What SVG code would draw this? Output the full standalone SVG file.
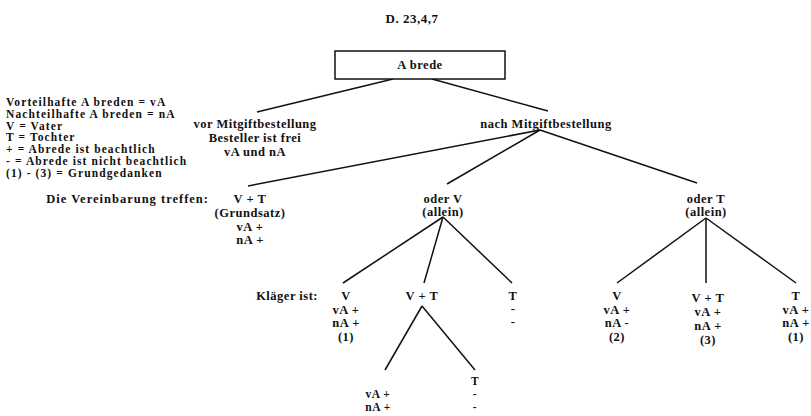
<svg xmlns="http://www.w3.org/2000/svg" width="811" height="416" viewBox="0 0 811 416">
<style>
text{font-family:"Liberation Serif","DejaVu Serif","Times New Roman",serif;font-size:12.5px;font-weight:bold;letter-spacing:0.5px;fill:#111}
.c{text-anchor:middle}
.r{text-anchor:end}
.lg{font-size:11.5px;letter-spacing:1.1px}
.sm{font-size:11.5px}
.l{stroke:#111;stroke-width:1.5;fill:none}
</style>
<rect width="811" height="416" fill="#fff"/>
<text class="c" x="412" y="23" style="font-size:13px">D. 23,4,7</text>
<g id="legend" class="lg">
<text class="lg" x="6" y="106">Vorteilhafte A breden = vA</text>
<text class="lg" x="6" y="118">Nachteilhafte A breden = nA</text>
<text class="lg" x="6" y="130">V = Vater</text>
<text class="lg" x="6" y="141">T = Tochter</text>
<text class="lg" x="6" y="153">+ = Abrede ist beachtlich</text>
<text class="lg" x="6" y="165">-  = Abrede ist nicht beachtlich</text>
<text class="lg" x="6" y="177">(1) - (3) = Grundgedanken</text>
</g>
<g id="connectors">
<line class="l" x1="393" y1="79" x2="257" y2="112"/>
<line class="l" x1="432" y1="79" x2="548" y2="111"/>
<line class="l" x1="540" y1="130" x2="248" y2="186"/>
<line class="l" x1="540" y1="130" x2="447" y2="184"/>
<line class="l" x1="540" y1="130" x2="697" y2="183"/>
<line class="l" x1="443" y1="217" x2="343" y2="283"/>
<line class="l" x1="443" y1="217" x2="424" y2="283"/>
<line class="l" x1="443" y1="217" x2="512" y2="283"/>
<line class="l" x1="422" y1="306" x2="385" y2="370"/>
<line class="l" x1="422" y1="306" x2="475" y2="370"/>
<line class="l" x1="706" y1="218" x2="617" y2="283"/>
<line class="l" x1="706" y1="218" x2="706" y2="283"/>
<line class="l" x1="706" y1="218" x2="796" y2="283"/>
</g>
<g id="abrede">
<rect x="335" y="51" width="170" height="28" fill="#fff" stroke="#111" stroke-width="1.5"/>
<text class="c" x="420" y="69">A brede</text>
</g>
<g id="vor">
<text class="c" x="255" y="128">vor Mitgiftbestellung</text>
<text class="c" x="255" y="142">Besteller ist frei</text>
<text class="c" x="255" y="156">vA und nA</text>
</g>
<g id="nach"><text class="c" x="546" y="128">nach Mitgiftbestellung</text></g>
<g id="vereinbarung"><text class="r" x="209" y="203" style="letter-spacing:1px">Die Vereinbarung treffen:</text></g>
<g id="vt">
<text class="c" x="250" y="203">V + T</text>
<text class="c" x="250" y="217">(Grundsatz)</text>
<text class="c" x="250" y="231">vA +</text>
<text class="c" x="250" y="244">nA +</text>
</g>
<g id="oderV">
<text class="c" x="443" y="203">oder V</text>
<text class="c" x="443" y="216">(allein)</text>
</g>
<g id="oderT">
<text class="c" x="706" y="203">oder T</text>
<text class="c" x="706" y="216">(allein)</text>
</g>
<g id="klaeger"><text class="r" x="318" y="300">Kläger ist:</text></g>
<g id="v1">
<text class="c" x="346" y="300">V</text>
<text class="c" x="346" y="314">vA +</text>
<text class="c" x="346" y="327">nA +</text>
<text class="c" x="346" y="341">(1)</text>
</g>
<g id="vt2"><text class="c" x="422" y="300">V + T</text></g>
<g id="t1">
<text class="c" x="513" y="300">T</text>
<text class="c" x="513" y="313">-</text>
<text class="c" x="513" y="326">-</text>
</g>
<g id="vt2a">
<text class="c sm" x="378" y="398">vA +</text>
<text class="c sm" x="378" y="411">nA +</text>
</g>
<g id="vt2b">
<text class="c sm" x="475" y="385">T</text>
<text class="c sm" x="475" y="398">-</text>
<text class="c sm" x="475" y="411">-</text>
</g>
<g id="v2">
<text class="c" x="617" y="300">V</text>
<text class="c" x="617" y="314">vA +</text>
<text class="c" x="617" y="327">nA -</text>
<text class="c" x="617" y="341">(2)</text>
</g>
<g id="vt3">
<text class="c" x="708" y="302">V + T</text>
<text class="c" x="708" y="316">vA +</text>
<text class="c" x="708" y="330">nA +</text>
<text class="c" x="708" y="344">(3)</text>
</g>
<g id="t2">
<text class="c" x="796" y="300">T</text>
<text class="c" x="796" y="314">vA +</text>
<text class="c" x="796" y="327">nA +</text>
<text class="c" x="796" y="341">(1)</text>
</g>
</svg>
